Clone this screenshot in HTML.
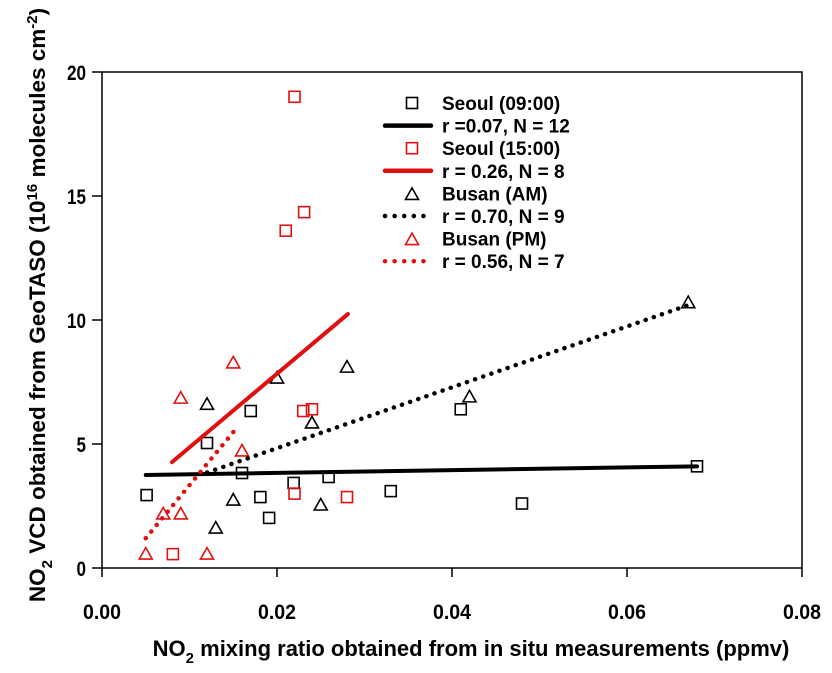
<!DOCTYPE html>
<html><head><meta charset="utf-8"><style>
html,body{margin:0;padding:0;background:#fff;}
svg{display:block;font-family:"Liberation Sans",Arial,sans-serif;}
</style></head><body>
<svg id="chart" width="832" height="673" viewBox="0 0 832 673" xmlns="http://www.w3.org/2000/svg">
<g id="axes"></g>
<g id="marks"></g>
<g id="legend"></g>
<text transform="translate(45,305) rotate(-90)" text-anchor="middle" font-size="22.5" font-weight="bold">NO<tspan font-size="15" dy="7">2</tspan><tspan dy="-7"> VCD obtained from GeoTASO (10</tspan><tspan font-size="15" dy="-8">16</tspan><tspan dy="8"> molecules cm</tspan><tspan font-size="15" dy="-8">-2</tspan><tspan dy="8">)</tspan></text>
<text x="471" y="656" text-anchor="middle" font-size="22" font-weight="bold">NO<tspan font-size="15" dy="7">2</tspan><tspan dy="-7"> mixing ratio obtained from in situ measurements (ppmv)</tspan></text>
</svg>
<script>
const xTicks=[0,0.02,0.04,0.06,0.08];
const xTickLabels=["0.00","0.02","0.04","0.06","0.08"];
const yTicks=[0,5,10,15,20];
const yTickLabels=["0","5","10","15","20"];
const seoulAMx=[0.0051,0.012,0.017,0.016,0.0181,0.0191,0.0219,0.0259,0.033,0.041,0.048,0.068];
const seoulAMy=[2.94,5.04,6.33,3.83,2.86,2.02,3.43,3.67,3.1,6.4,2.6,4.1];
const seoulPMx=[0.022,0.0231,0.021,0.023,0.024,0.022,0.028,0.0081];
const seoulPMy=[19.0,14.35,13.6,6.33,6.4,3.0,2.86,0.56];
const busanAMx=[0.012,0.020,0.028,0.024,0.015,0.013,0.025,0.042,0.067];
const busanAMy=[6.6,7.66,8.1,5.85,2.74,1.61,2.54,6.9,10.7];
const busanPMx=[0.015,0.009,0.016,0.007,0.009,0.005,0.012];
const busanPMy=[8.27,6.85,4.72,2.18,2.18,0.56,0.56];
const fitSeoulAMx=[0.005,0.068], fitSeoulAMy=[3.75,4.1];
const fitSeoulPMx=[0.008,0.0281], fitSeoulPMy=[4.27,10.24];
const fitBusanAMx=[0.012,0.067], fitBusanAMy=[3.85,10.6];
const fitBusanPMx=[0.005,0.0154], fitBusanPMy=[1.2,5.65];

const X0=102,X1=802,Y0=568,Y1=72;
const sx=v=>X0+(v-0)/(0.08)*(X1-X0);
const sy=v=>Y0-(v/20)*(Y0-Y1);
const NS="http://www.w3.org/2000/svg";
function mk(tag,attrs,parent){const e=document.createElementNS(NS,tag);for(const k in attrs)e.setAttribute(k,attrs[k]);parent.appendChild(e);return e;}
const axes=document.getElementById('axes'),marks=document.getElementById('marks'),leg=document.getElementById('legend');
let fr=mk('rect',{x:X0,y:Y1,width:X1-X0,height:Y0-Y1,fill:'none',stroke:'#000','stroke-width':1.5},axes);


xTicks.forEach((t,i)=>{
  let l=mk('line',{x1:sx(t),x2:sx(t),y1:Y0,y2:Y0+9,stroke:'#000','stroke-width':1.5},axes);
  
  
  let tx=mk('text',{x:sx(t),y:Y0+51,'text-anchor':'middle','font-size':21,'font-weight':'bold',textLength:38,lengthAdjust:'spacingAndGlyphs'},axes);
  tx.textContent=xTickLabels[i];
  
  
});
yTicks.forEach((t,i)=>{
  let l=mk('line',{x1:X0-10,x2:X0,y1:sy(t),y2:sy(t),stroke:'#000','stroke-width':1.5},axes);
  
  
  let tx=mk('text',{x:X0-16,y:sy(t)+8,'text-anchor':'end','font-size':21,'font-weight':'bold',textLength:yTickLabels[i].length*9.5,lengthAdjust:'spacingAndGlyphs'},axes);
  tx.textContent=yTickLabels[i];
  
  
});
function line(xs,ys,color,dotted,name){
  let a={x1:sx(xs[0]),y1:sy(ys[0]),x2:sx(xs[1]),y2:sy(ys[1]),stroke:color};
  if(dotted){a['stroke-width']=4.5;a['stroke-dasharray']='0.1 8.5';a['stroke-linecap']='round';}
  else{a['stroke-width']=4;a['stroke-linecap']='round';}
  let l=mk('line',a,marks);
  
  
}
function sq(cx,cy,color,parent){return mk('rect',{x:cx-5.5,y:cy-5.5,width:11,height:11,fill:'none',stroke:color,'stroke-width':1.6},parent);}
function tri(cx,cy,color,parent){return mk('polygon',{points:`${cx},${cy-6.5} ${cx+6.5},${cy+5} ${cx-6.5},${cy+5}`,fill:'none',stroke:color,'stroke-width':1.6},parent);}
seoulAMx.forEach((v,i)=>{let e=sq(sx(v),sy(seoulAMy[i]),'#000',marks);});
seoulPMx.forEach((v,i)=>{let e=sq(sx(v),sy(seoulPMy[i]),'#e01010',marks);});
busanAMx.forEach((v,i)=>{let e=tri(sx(v),sy(busanAMy[i]),'#000',marks);});
busanPMx.forEach((v,i)=>{let e=tri(sx(v),sy(busanPMy[i]),'#e01010',marks);});
line(fitSeoulAMx,fitSeoulAMy,'#000',false,'seoul-0900-fit');
line(fitSeoulPMx,fitSeoulPMy,'#e01010',false,'seoul-1500-fit');
line(fitBusanAMx,fitBusanAMy,'#000',true,'busan-am-fit');
line(fitBusanPMx,fitBusanPMy,'#e01010',true,'busan-pm-fit');
const rows=[["sq","#000","Seoul (09:00)"],["solid","#000","r =0.07, N = 12"],["sq","#e01010","Seoul (15:00)"],["solid","#e01010","r = 0.26, N = 8"],["tri","#000","Busan (AM)"],["dot","#000","r = 0.70, N = 9"],["tri","#e01010","Busan (PM)"],["dot","#e01010","r = 0.56, N = 7"]];
rows.forEach((r,i)=>{
  const y=103+i*22.6;
  let g=mk('g',{},leg);
  
  
  if(r[0]=='sq')sq(412,y,r[1],g);
  else if(r[0]=='tri')tri(412,y+1,r[1],g);
  else if(r[0]=='solid')mk('line',{x1:385,x2:431,y1:y,y2:y,stroke:r[1],'stroke-width':4.5,'stroke-linecap':'round'},g);
  else mk('line',{x1:385,x2:431,y1:y,y2:y,stroke:r[1],'stroke-width':4.5,'stroke-dasharray':'0.1 9.5','stroke-linecap':'round'},g);
  let t=mk('text',{x:442,y:y+7,'font-size':19,'font-weight':'bold'},g);
  t.textContent=r[2];
});
</script>
</body></html>
